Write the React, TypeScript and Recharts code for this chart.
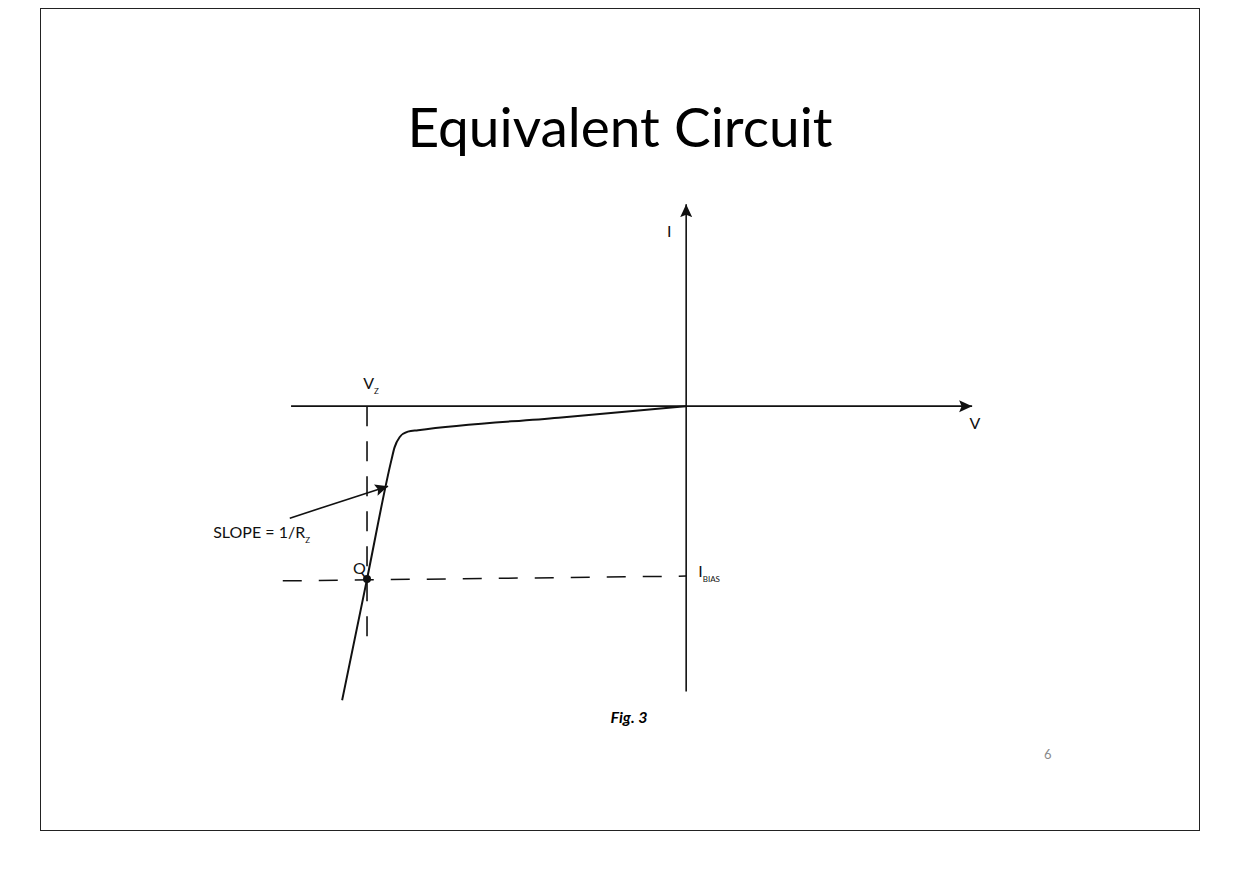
import { ComposedChart, Line, Scatter, XAxis, YAxis } from 'recharts'

// axis ranges of the drawing (V in volts, I in mA)
const V_RANGE = [-8.4, 5.7]
const I_RANGE = [-38.6, 27.3]

// zener characteristic
const zenerCurve = [
  { v: -5.39, i: -34 },
  { v: -5.0, i: -20 },
  { v: -4.62, i: -6.3 },
  { v: -4.57, i: -4.8 },
  { v: -4.49, i: -3.6 },
  { v: -4.36, i: -2.95 },
  { v: -4.2, i: -2.78 },
  { v: -2.0, i: -1.33 },
  { v: 0, i: 0 },
]

const currentAxis = [
  { v: 0, i: -33 },
  { v: 0, i: 23.35 },
]
const voltageAxis = [
  { v: -6.19, i: 0 },
  { v: 4.48, i: 0 },
]
const vzGuide = [
  { v: -5, i: 0 },
  { v: -5, i: -26.6 },
]
const biasGuide = [
  { v: -6.32, i: -20.2 },
  { v: 0, i: -19.65 },
]
const slopePointer = [
  { v: -6.21, i: -12.95 },
  { v: -4.67, i: -9.25 },
]
const qPoint = [{ v: -5, i: -20 }]

const labels = [
  { v: -0.3, i: 19.6, text: 'I', sub: '' },
  { v: 4.44, i: -2.66, text: 'V', sub: '' },
  { v: -5.06, i: 1.97, text: 'V', sub: 'Z' },
  { v: -7.41, i: -15.26, text: 'SLOPE = 1/R', sub: 'Z' },
  { v: -5.22, i: -19.4, text: 'Q', sub: '' },
  { v: 0.19, i: -19.77, text: 'I', sub: 'BIAS' },
]

const INK = '#111'
const FONT = 'Lato, "Open Sans", sans-serif'

function LabelShape(props: any) {
  const { cx, cy, payload } = props
  return (
    <text x={cx} y={cy} fill={INK} fontFamily={FONT} fontSize={16}>
      {payload.text}
      {payload.sub ? (
        <tspan dy={5} fontSize={8}>
          {payload.sub}
        </tspan>
      ) : null}
    </text>
  )
}

function DotShape(props: any) {
  return <circle cx={props.cx} cy={props.cy} r={4} fill={INK} />
}

export default function App() {
  return (
    <div style={{ position: 'absolute', left: 0, top: 0, width: 1240, height: 877, background: '#fff' }}>
      <div
        style={{
          position: 'absolute',
          left: 40,
          top: 8,
          width: 1160,
          height: 823,
          boxSizing: 'border-box',
          border: '1px solid #222',
        }}
      />
      <div
        style={{
          position: 'absolute',
          left: 40,
          width: 1160,
          top: 99,
          textAlign: 'center',
          fontFamily: FONT,
          fontSize: 55,
          lineHeight: '55px',
          color: '#000',
        }}
      >
        Equivalent Circuit
      </div>

      <div style={{ position: 'absolute', left: 150, top: 170 }}>
        <ComposedChart width={900} height={570} margin={{ top: 0, right: 0, bottom: 0, left: 0 }}>
          <defs>
            <marker
              id="arrowHead"
              markerUnits="userSpaceOnUse"
              markerWidth={14}
              markerHeight={14}
              refX={13}
              refY={6}
              orient="auto"
            >
              <path d="M0,0 L13,6 L0,12 L2.5,6 Z" fill={INK} />
            </marker>
          </defs>
          <XAxis type="number" dataKey="v" domain={V_RANGE} allowDataOverflow hide />
          <YAxis type="number" dataKey="i" domain={I_RANGE} allowDataOverflow hide />
          <Line
            data={currentAxis}
            dataKey="i"
            type="linear"
            stroke={INK}
            strokeWidth={1.6}
            dot={false}
            markerEnd="url(#arrowHead)"
            isAnimationActive={false}
          />
          <Line
            data={voltageAxis}
            dataKey="i"
            type="linear"
            stroke={INK}
            strokeWidth={1.6}
            dot={false}
            markerEnd="url(#arrowHead)"
            isAnimationActive={false}
          />
          <Line
            data={vzGuide}
            dataKey="i"
            type="linear"
            stroke={INK}
            strokeWidth={1.6}
            strokeDasharray="20 15"
            dot={false}
            isAnimationActive={false}
          />
          <Line
            data={biasGuide}
            dataKey="i"
            type="linear"
            stroke={INK}
            strokeWidth={1.5}
            strokeDasharray="19 17"
            dot={false}
            isAnimationActive={false}
          />
          <Line
            data={zenerCurve}
            dataKey="i"
            type="monotone"
            stroke={INK}
            strokeWidth={2}
            dot={false}
            isAnimationActive={false}
          />
          <Line
            data={slopePointer}
            dataKey="i"
            type="linear"
            stroke={INK}
            strokeWidth={1.6}
            dot={false}
            markerEnd="url(#arrowHead)"
            isAnimationActive={false}
          />
          <Scatter data={qPoint} dataKey="i" shape={DotShape} isAnimationActive={false} />
          <Scatter data={labels} dataKey="i" shape={LabelShape} isAnimationActive={false} />
        </ComposedChart>
      </div>

      <div
        style={{
          position: 'absolute',
          left: 629,
          top: 709,
          transform: 'translateX(-50%)',
          fontFamily: FONT,
          fontSize: 16,
          lineHeight: '16px',
          fontWeight: 700,
          fontStyle: 'italic',
          color: '#000',
        }}
      >
        Fig. 3
      </div>
      <div
        style={{
          position: 'absolute',
          left: 1044,
          top: 748,
          fontFamily: FONT,
          fontSize: 13,
          lineHeight: '13px',
          color: '#8a8a8a',
        }}
      >
        6
      </div>
    </div>
  )
}
